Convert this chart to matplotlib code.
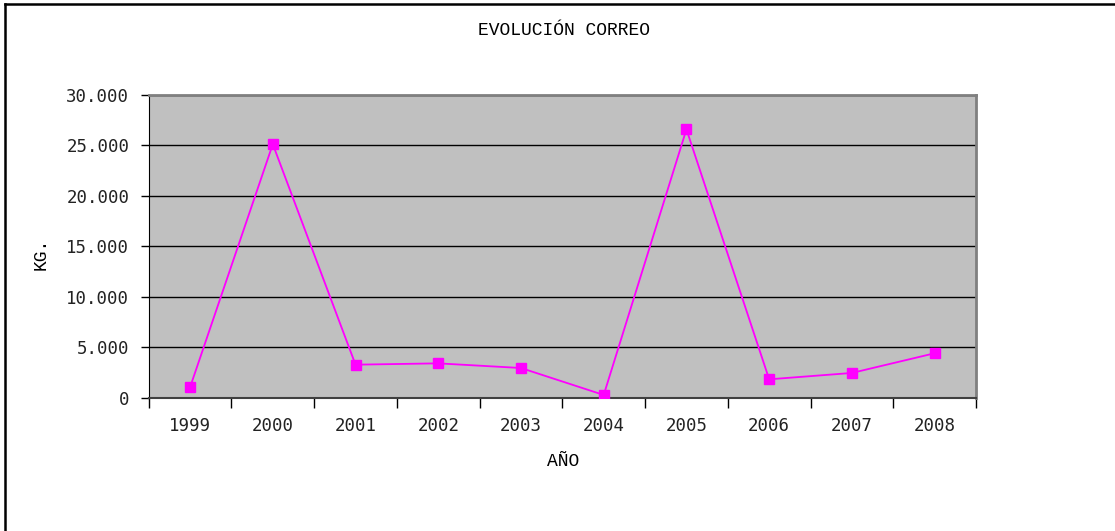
import matplotlib
matplotlib.use("Agg")
import matplotlib.pyplot as plt
from matplotlib.lines import Line2D
from matplotlib.ticker import FuncFormatter

years = ["1999", "2000", "2001", "2002", "2003", "2004", "2005", "2006", "2007", "2008"]
kg = [1030, 25100, 3270, 3400, 2940, 270, 26570, 1820, 2450, 4400]

plt.rcParams["font.family"] = ["DejaVu Sans Mono"]
TICK_FS = 12.5
LBL_FS = 13
LBL_FONT = ["Liberation Mono", "DejaVu Sans Mono"]

W, H = 1115, 531
fig = plt.figure(figsize=(W / 100, H / 100), dpi=100)
# chart border: only top and left edges are visible (rest is cropped)
fig.lines.append(Line2D([5 / W, 5 / W], [0, 1 - 4 / H], transform=fig.transFigure, color="black", lw=1.8))
fig.lines.append(Line2D([5 / W, 1], [1 - 4 / H, 1 - 4 / H], transform=fig.transFigure, color="black", lw=1.8))

ax = fig.add_axes([148.7 / W, 1 - 397.7 / H, (976 - 148.7) / W, (397.7 - 94.7) / H])
ax.set_facecolor("#c0c0c0")

x = list(range(len(years)))
ax.plot(x, kg, color="#ff00ff", lw=1.3, marker="s", ms=7, mfc="#ff00ff", mec="#ff00ff", zorder=3)

ax.set_xlim(-0.5, len(years) - 0.5)
ax.set_ylim(0, 30000)
ax.set_yticks(range(0, 30001, 5000))
ax.yaxis.set_major_formatter(FuncFormatter(lambda v, p: f"{int(v):,}".replace(",", ".")))
ax.grid(axis="y", color="black", lw=1)
ax.set_axisbelow(True)

# categories sit between the tick marks
ax.set_xticks([i - 0.5 for i in range(len(years) + 1)])
ax.set_xticklabels([])
ax.set_xticks(x, minor=True)
ax.set_xticklabels(years, minor=True)
ax.tick_params(axis="x", which="major", length=7, width=1, color="black", direction="out")
ax.tick_params(axis="x", which="minor", length=0, pad=14, labelsize=TICK_FS, colors="#222222")
ax.tick_params(axis="y", length=6, width=1, direction="out", pad=8, labelsize=TICK_FS, labelcolor="#222222")

for s in ("top", "right"):
    ax.spines[s].set_color("#808080")
    ax.spines[s].set_linewidth(2)
ax.spines["left"].set_color("black")
ax.spines["bottom"].set_color("#404040")
ax.spines["bottom"].set_linewidth(1.5)

fig.text(564 / W, 1 - 31 / H, "EVOLUCIÓN CORREO", ha="center", va="center", fontsize=LBL_FS, family=LBL_FONT)
fig.text(41 / W, 1 - 254 / H, "KG.", ha="center", va="center", rotation=90, fontsize=LBL_FS, family=LBL_FONT)
fig.text(563 / W, 1 - 462 / H, "AÑO", ha="center", va="center", fontsize=LBL_FS, family=LBL_FONT)

fig.savefig("out.png", dpi=100)
